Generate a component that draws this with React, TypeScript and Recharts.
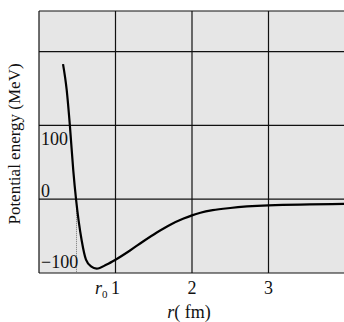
import React from "react";
import {
  ComposedChart, Line, XAxis, YAxis, CartesianGrid, ReferenceLine,
} from "recharts";

// distance r in fm, potential energy in MeV
const rValues = [0.314, 0.362, 0.405, 0.448, 0.484, 0.558, 0.614, 0.68, 0.754, 0.885, 1.0, 1.19, 1.36, 1.54, 1.71, 1.89, 2.0, 2.11, 2.27, 2.5, 3.0, 3.99];
const energy = [183, 148, 98, 39, 0, -56, -82, -91, -94, -88.5, -82, -69.5, -57.3, -45.1, -34.9, -26.3, -21.9, -18.4, -14.9, -11.9, -8.5, -6.4];
const xTicks = [0, 1, 2, 3];
const yTicks = [-100, 0, 100, 200, 255];
const yTickLabels: Record<number, string> = { "-100": "\u2212100", 0: "0", 100: "100" };
const r0 = 0.49;

const data = rValues.map((r, i) => ({ r, u: energy[i] }));

const serif = { fontFamily: "'Liberation Serif', 'Times New Roman', Times, serif" };

function YTick(props: { x?: number; y?: number; payload?: { value: number } }) {
  const { y = 0, payload } = props;
  const v = payload?.value ?? 0;
  const label = yTickLabels[v];
  if (!label) return null;
  // labels sit inside the plot, offset from their grid line as in the figure
  const dy = v === 100 ? 20 : v === 0 ? -2 : -5;
  return (
    <text x={41} y={y + dy} style={serif} fontSize={18} fill="#111" textAnchor="start">
      {label}
    </text>
  );
}

function XTick(props: { x?: number; y?: number; payload?: { value: number } }) {
  const { x = 0, payload } = props;
  const v = payload?.value ?? 0;
  if (!v) return null;
  return (
    <g>
      {v === 1 && (
        <text x={x - 8} y={294} style={serif} fontSize={18} fill="#111" textAnchor="end">
          <tspan fontStyle="italic">r</tspan>
          <tspan fontSize={11} dy={4}>0</tspan>
        </text>
      )}
      <text x={x} y={294} style={serif} fontSize={18} fill="#111" textAnchor="middle">
        {v}
      </text>
    </g>
  );
}

export default function App() {
  return (
    <div style={{ position: "absolute", left: 0, top: 0, width: 344, height: 322, background: "#fff" }}>
      <ComposedChart width={344} height={322} data={data} margin={{ top: 11, right: -1, bottom: 0, left: 0 }}>
        <CartesianGrid fill="#e6e6e6" stroke="#111" strokeWidth={1.2} strokeOpacity={1} />
        <XAxis
          dataKey="r"
          type="number"
          domain={[0, 4]}
          ticks={xTicks}
          height={49}
          axisLine={false}
          tickLine={false}
          tick={<XTick />}
          label={{
            content: () => (
              <text x={189} y={318} style={serif} fontSize={18} fill="#111" textAnchor="middle">
                <tspan fontStyle="italic">r</tspan>( fm)
              </text>
            ),
          }}
        />
        <YAxis
          type="number"
          domain={[-100, 255]}
          ticks={yTicks}
          width={39}
          axisLine={false}
          tickLine={false}
          tick={<YTick />}
          label={{
            content: () => (
              <text
                x={20}
                y={144}
                transform="rotate(-90 20 144)"
                style={serif}
                fontSize={17}
                fill="#111"
                textAnchor="middle"
              >
                Potential energy (MeV)
              </text>
            ),
          }}
        />
        <ReferenceLine
          segment={[{ x: r0, y: 0 }, { x: r0, y: -100 }]}
          stroke="#777"
          strokeWidth={1}
          strokeDasharray="1 1"
        />
        <Line
          type="monotone"
          dataKey="u"
          stroke="#000"
          strokeWidth={2.2}
          dot={false}
          isAnimationActive={false}
        />
      </ComposedChart>
    </div>
  );
}
